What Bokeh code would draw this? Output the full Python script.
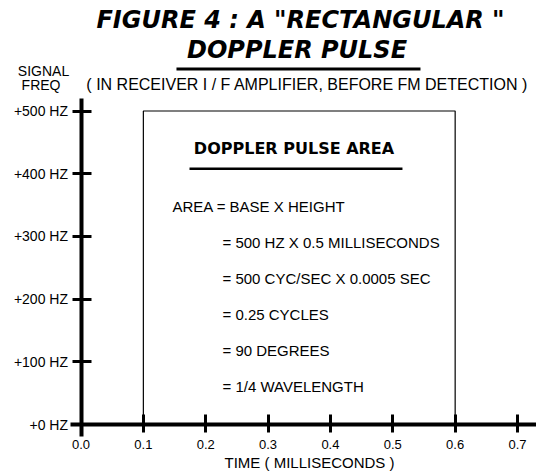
from bokeh.plotting import figure
from bokeh.models import Range1d, FixedTicker, Label, BoxAnnotation
from bokeh.embed import file_html
from bokeh.resources import INLINE

# ---- data ----
time_ticks = [0.0, 0.1, 0.2, 0.3, 0.4, 0.5, 0.6, 0.7]
time_tick_labels = ["0.0", "0.1", "0.2", "0.3", "0.4", "0.5", "0.6", "0.7"]
freq_ticks = [0, 100, 200, 300, 400, 500]
freq_tick_labels = ["+0 HZ", "+100 HZ", "+200 HZ", "+300 HZ", "+400 HZ", "+500 HZ"]
pulse_start_ms = 0.1
pulse_end_ms = 0.6
pulse_height_hz = 500
area_lines = [
    "AREA = BASE X HEIGHT",
    "= 500 HZ X 0.5 MILLISECONDS",
    "= 500 CYC/SEC X 0.0005 SEC",
    "= 0.25 CYCLES",
    "= 90 DEGREES",
    "= 1/4 WAVELENGTH",
]
title_lines = ['FIGURE 4 : A "RECTANGULAR "', "DOPPLER PULSE"]
subtitle = "( IN RECEIVER I / F  AMPLIFIER, BEFORE FM DETECTION )"
y_label_lines = ["SIGNAL", "FREQ"]
x_label = "TIME ( MILLISECONDS )"
box_heading = "DOPPLER PULSE AREA"

FONT = "Liberation Sans"
HEAD_FONT = "DejaVu Sans"

p = figure(width=536, height=473, output_backend="svg", toolbar_location=None,
           x_range=Range1d(-0.12909, 0.73044), y_range=Range1d(-78.15, 676.24),
           min_border_left=0, min_border_right=0, min_border_top=0, min_border_bottom=0)
p.outline_line_color = None
p.xgrid.visible = False
p.ygrid.visible = False
p.background_fill_color = "white"
p.border_fill_color = "white"

for ax, ticks, labels in ((p.xaxis[0], time_ticks, time_tick_labels),
                          (p.yaxis[0], freq_ticks, freq_tick_labels)):
    ax.fixed_location = 0
    ax.ticker = FixedTicker(ticks=ticks)
    ax.major_label_overrides = {t: l for t, l in zip(ticks, labels)}
    ax.axis_line_width = 4
    ax.axis_line_color = "black"
    ax.major_tick_line_width = 3
    ax.major_tick_line_color = "black"
    ax.minor_tick_line_color = None
    ax.major_label_text_color = "black"
    ax.major_label_text_font = FONT

p.xaxis.bounds = (-0.0168, 0.7304)
p.yaxis.bounds = (-19.1, 520)
p.xaxis.major_tick_in = 10
p.xaxis.major_tick_out = 8
p.xaxis.major_label_standoff = 7
p.xaxis.major_label_text_font_size = "13px"
p.yaxis.major_tick_in = 10
p.yaxis.major_tick_out = 9
p.yaxis.major_label_standoff = 4
p.yaxis.major_label_text_font_size = "14px"

# rectangular pulse outline
px = [pulse_start_ms, pulse_start_ms, pulse_end_ms, pulse_end_ms]
py = [0, pulse_height_hz, pulse_height_hz, 0]
p.line(px, py, line_color="black", line_width=1.2)


def label(x, y, text, size, font=FONT, style="normal", align="center"):
    p.add_layout(Label(x=x, y=y, text=text, text_align=align, text_baseline="alphabetic",
                       text_font=font, text_font_style=style, text_font_size=size,
                       text_color="black"))


# titles
label(0.352, 645.4, title_lines[0], "24px", HEAD_FONT, "bold italic")
label(0.3464, 597.4, title_lines[1], "24px", HEAD_FONT, "bold italic")
p.add_layout(BoxAnnotation(left=0.1531, right=0.5444, bottom=564.6, top=569.4,
                           fill_color="black", fill_alpha=1, line_color=None, level="overlay"))
label(0.3664, 542.4, subtitle, "16px")
label(-0.0601, 564.2, y_label_lines[0], "14px")
label(-0.0641, 542.2, y_label_lines[1], "14px")
label(0.3664, -61.4, x_label, "15px")

# box heading
label(0.3416, 440.2, box_heading, "16px", HEAD_FONT, "bold")
p.add_layout(BoxAnnotation(left=0.1740, right=0.5155, bottom=405.9, top=409.9,
                           fill_color="black", fill_alpha=1, line_color=None, level="overlay"))

# area equations
line_x = [0.1467] + [0.2269] * (len(area_lines) - 1)
line_y = [347.7, 290.3, 232.9, 175.5, 118.1, 60.6]
for txt, lx, ly in zip(area_lines, line_x, line_y):
    label(lx, ly, txt, "15px", align="left")

open("out.html", "w").write(file_html(p, INLINE))
